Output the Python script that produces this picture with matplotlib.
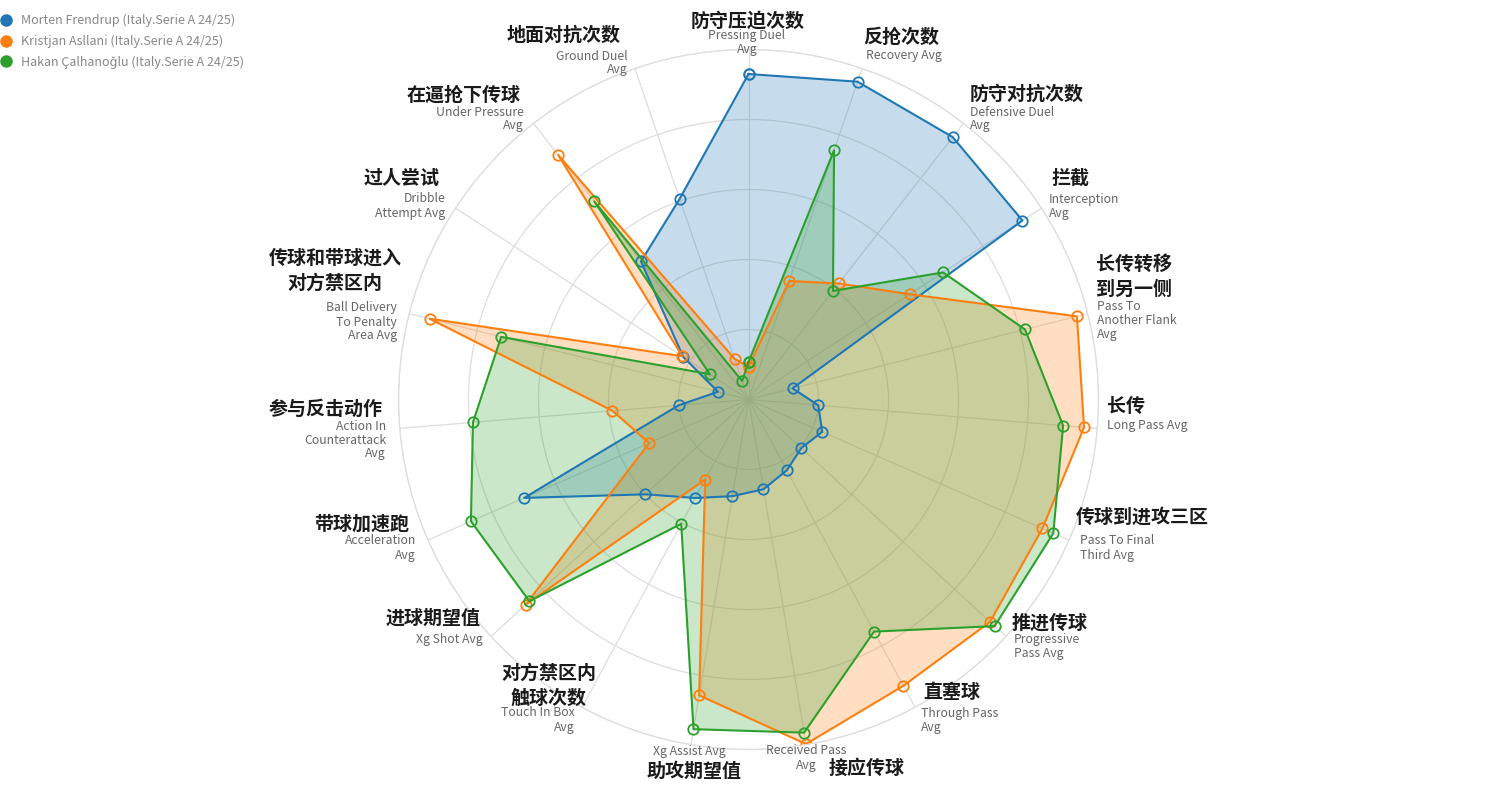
import numpy as np
import matplotlib
matplotlib.use('Agg')
import matplotlib.pyplot as plt
from matplotlib.lines import Line2D

plt.rcParams['font.family'] = ['Noto Sans CJK SC', 'DejaVu Sans']

# axes, clockwise from the top
cn_names = ['防守压迫次数', '反抢次数', '防守对抗次数', '拦截', '长传转移\n到另一侧', '长传',
            '传球到进攻三区', '推进传球', '直塞球', '接应传球', '助攻期望值', '对方禁区内\n触球次数',
            '进球期望值', '带球加速跑', '参与反击动作', '传球和带球进入\n对方禁区内', '过人尝试',
            '在逼抢下传球', '地面对抗次数']
en_names = ['Pressing Duel\nAvg', 'Recovery Avg', 'Defensive Duel\nAvg', 'Interception\nAvg',
            'Pass To\nAnother Flank\nAvg', 'Long Pass Avg', 'Pass To Final\nThird Avg',
            'Progressive\nPass Avg', 'Through Pass\nAvg', 'Received Pass\nAvg', 'Xg Assist Avg',
            'Touch In Box\nAvg', 'Xg Shot Avg', 'Acceleration\nAvg', 'Action In\nCounterattack\nAvg',
            'Ball Delivery\nTo Penalty\nArea Avg', 'Dribble\nAttempt Avg', 'Under Pressure\nAvg',
            'Ground Duel\nAvg']

players = ['Morten Frendrup (Italy.Serie A 24/25)',
           'Kristjan Asllani (Italy.Serie A 24/25)',
           'Hakan Çalhanoğlu (Italy.Serie A 24/25)']
frendrup = [0.93, 0.96, 0.95, 0.935, 0.13, 0.20, 0.23, 0.205, 0.23, 0.26,
            0.28, 0.32, 0.40, 0.70, 0.20, 0.09, 0.223, 0.50, 0.606]
asllani = [0.093, 0.358, 0.42, 0.55, 0.968, 0.962, 0.917, 0.938, 0.93, 0.998,
           0.857, 0.26, 0.866, 0.31, 0.39, 0.94, 0.226, 0.886, 0.123]
calhanoglu = [0.107, 0.753, 0.393, 0.664, 0.815, 0.902, 0.951, 0.956, 0.754, 0.965,
              0.955, 0.404, 0.851, 0.866, 0.79, 0.729, 0.132, 0.717, 0.056]
colors = ['#1f77b4', '#ff7f0e', '#2ca02c']

W, H = 1496, 800
fig = plt.figure(figsize=(W / 100, H / 100), dpi=100)

cx, cy, R = 748.5, 399.5, 350
ax = fig.add_axes([(cx - R) / W, (H - cy - R) / H, 2 * R / W, 2 * R / H], projection='polar')
ax.set_theta_zero_location('N')
ax.set_theta_direction(-1)

n = len(cn_names)
theta = np.arange(n) * 2 * np.pi / n
ax.set_ylim(0, 1)
ax.set_xticks(theta)
ax.set_xticklabels([])
ax.set_yticks([0.2, 0.4, 0.6, 0.8, 1.0])
ax.set_yticklabels([])
ax.set_axisbelow(True)
ax.grid(color='#dddddd', lw=0.9)
ax.spines['polar'].set_color('#dddddd')
ax.spines['polar'].set_linewidth(0.9)

for vals, c in zip([frendrup, asllani, calhanoglu], colors):
    t = np.append(theta, theta[0])
    r = np.append(vals, vals[0])
    ax.fill(t, r, color=c, alpha=0.25, lw=0)
    ax.plot(t, r, color=c, lw=1.5, marker='o', ms=7.5, mfc='none', mew=1.3)

# label anchors in pixels: (title x, title y, title ha, sub x, sub y, sub ha)
label_pos = [
    (748, 21, 'center', 747, 36, 'center'),
    (863, 37, 'left', 866, 56, 'left'),
    (970, 94, 'left', 970, 112, 'left'),
    (1052, 178, 'left', 1049, 199, 'left'),
    (1096, 264, 'left', 1097, 307, 'left'),
    (1107, 406, 'left', 1107, 426, 'left'),
    (1076, 517, 'left', 1080, 541, 'left'),
    (1012, 623, 'left', 1014, 640, 'left'),
    (923, 692, 'left', 921, 713, 'left'),
    (829, 768, 'left', 806, 751, 'center'),
    (694, 771, 'center', 689, 751, 'center'),
    (549, 673, 'center', 575, 713, 'right'),
    (481, 618, 'right', 483, 640, 'right'),
    (409, 524, 'right', 416, 541, 'right'),
    (383, 409, 'right', 386, 426, 'right'),
    (335, 258, 'center', 397, 308, 'right'),
    (440, 178, 'right', 445, 199, 'right'),
    (521, 95, 'right', 524, 112, 'right'),
    (621, 35, 'right', 628, 56, 'right'),
]


def put(text, x, y, ha, size, color, weight, step):
    for i, line in enumerate(text.split('\n')):
        fig.text(x / W, 1 - (y + i * step) / H, line, ha=ha, va='center',
                 fontsize=size, color=color, fontweight=weight)


for cn, en, (tx, ty, tha, sx, sy, sha) in zip(cn_names, en_names, label_pos):
    put(cn, tx, ty, tha, 13.7, '#1a1a1a', 'bold', 25.5)
    put(en, sx, sy, sha, 8.8, '#666666', 'normal', 14)

handles = [Line2D([], [], marker='o', ls='', ms=8, color=c) for c in colors]
fig.legend(handles, players, loc='upper left', bbox_to_anchor=(0, 0.984), frameon=False,
           fontsize=9, labelcolor='#888888', handlelength=0.8, handletextpad=0.8,
           borderpad=0.1, borderaxespad=0, labelspacing=0.6)

fig.savefig('out.png', dpi=100)
